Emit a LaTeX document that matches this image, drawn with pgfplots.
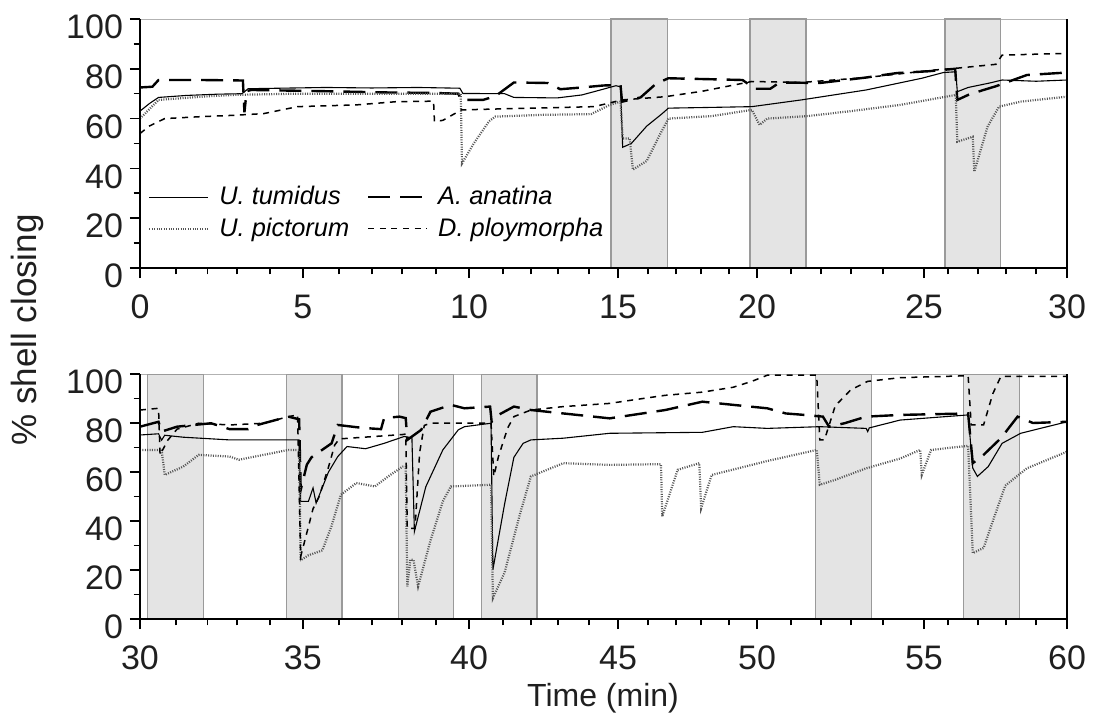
\documentclass[border=0pt]{standalone}
\usepackage{fontspec}
\setmainfont{Liberation Sans}
\usepackage{pgfplots}
\pgfplotsset{compat=1.18}

\definecolor{bandfill}{HTML}{E4E4E4}
\definecolor{bandedge}{HTML}{9A9A9A}
\definecolor{pict}{HTML}{555555}

\pgfplotsset{
  shellaxis/.style={
    scale only axis, width=463.5pt,
    ymin=0, ymax=100,
    axis line style={draw=gray!60, line width=0.4pt},
    tick align=outside, xtick pos=bottom, ytick pos=left,
    major tick length=5pt, minor tick length=3.2pt,
    every tick/.style={black, line width=0.8pt},
    ytick={0,20,...,100}, minor ytick={10,30,...,90},
    tick label style={font=\fontsize{17}{19}\selectfont, text=black!88},
    xticklabel style={yshift=-5pt},
    yticklabel style={yshift=-4pt},
    /pgf/number format/assume math mode=true,
    clip mode=individual,
  },
  tum/.style={black, line width=0.55pt},
  ana/.style={black, line width=1.2pt, dash pattern=on 11pt off 5pt},
  pic/.style={pict, line width=1.1pt, dash pattern=on 0.5pt off 0.7pt},
  ply/.style={black, line width=0.75pt, dash pattern=on 3pt off 2.8pt},
  band/.style={fill=bandfill, draw=bandedge, line width=0.6pt, forget plot},
}

\begin{document}
\begin{tikzpicture}
\useasboundingbox (-70pt,134pt) rectangle (478.5pt,-227pt);

% ---- 0 to 30 min ----
\begin{axis}[shellaxis,
  height=124.5pt,
  xmin=0, xmax=30,
  xtick={0,5.27,10.65,15.47,19.97,25.37,30},
  xticklabels={0,5,10,15,20,25,30},
  minor xtick={1.17,2.19,3.14,4.21,6.44,7.51,8.48,9.58,11.75,12.65,13.53,14.53,16.44,17.35,18.16,19.06,21.07,22.04,23.01,24.05,26.15,27.12,28.03,29.0},
  legend columns=2,
  legend cell align=left,
  legend style={at={(-0.0065,0.345)}, anchor=north west, draw=none, fill=none, inner sep=0pt,
    font=\fontsize{12.7}{14}\selectfont\itshape, row sep=1pt},
  legend image code/.code={\path[draw=none] (-7.5pt,0pt) -- (33pt,0pt); \draw[#1] (0pt,0pt) -- (29.5pt,0pt);},
]
\addplot[band] coordinates {(15.24,0) (15.24,100) (17.06,100) (17.06,0)} -- cycle;
\addplot[band] coordinates {(19.74,0) (19.74,100) (21.55,100) (21.55,0)} -- cycle;
\addplot[band] coordinates {(26.05,0) (26.05,100) (27.86,100) (27.86,0)} -- cycle;

\addplot[tum] coordinates {
(0,63) (0.3,66) (0.6,68.5) (1.5,69.3) (2.5,69.8) (3.3,70) (3.5,72) (4.5,72.2) (6,72.5)
(7.5,72.3) (9,72.5) (10.35,72.2) (10.45,70.1) (11.8,70) (12.1,68.5) (13.5,68.3) (14.3,69.5)
(14.9,71.5) (15.4,73.2) (15.55,72.8) (15.62,48.5) (15.9,50) (16.4,57) (16.9,62) (17.1,64.2)
(18.5,64.5) (19.8,64.8) (21.4,67.5) (23.5,71.5) (25.3,76.2) (26.0,78.5) (26.4,78.8)
(26.45,70.8) (26.8,72.5) (27.5,74.3) (27.9,75.5) (29,75) (30,75.5)};
\addlegendentry{U. tumidus}

\addplot[ana] coordinates {
(0,72.5) (0.4,72.8) (0.6,75.5) (2,75.5) (3.33,75.3) (3.38,62.5) (3.45,71) (3.6,71.5) (6,71)
(8,70.5) (9.5,70.3) (10.3,70) (10.4,67.5) (11.1,67.5) (11.5,69) (12.1,74.5) (13.2,74.3)
(13.6,71.8) (14.3,72.5) (15.0,73.3) (15.55,73.5) (15.6,66.8) (16.2,68.5) (16.7,74) (17.1,76.2)
(18.5,75.8) (19.5,75.5) (19.9,72) (20.4,72) (20.7,74.5) (22,74.3) (23.5,76.5) (24.5,78.3)
(25.5,79) (26.38,80) (26.45,67.5) (26.8,69.5) (27.3,71.5) (27.7,73) (28.7,77.5) (30,78.5)};
\addlegendentry{A. anatina}

\addplot[pic] coordinates {
(0,60) (0.6,67.5) (2,68.8) (3,69.5) (5,70) (8,70) (10.38,70) (10.42,42) (10.8,50) (11.3,59)
(11.5,60.8) (13,61.5) (14.6,61.8) (15.2,65.5) (15.55,66.8) (15.62,52) (15.85,52) (15.95,39.5)
(16.4,43) (16.8,53) (17.1,60) (18.5,61) (19.8,63.5) (20.05,57.5) (20.3,60) (21.6,61) (23,63)
(24.6,65.5) (26.4,69.5) (26.45,50.7) (26.95,52.7) (27.0,38.7) (27.43,56.8) (27.8,64.8)
(28.5,66.8) (30,68.8)};
\addlegendentry{U. pictorum}

\addplot[ply] coordinates {
(0,54) (0.3,57) (0.8,60) (2,60.8) (3,61.3) (4,62) (5.1,64.8) (7,65.5) (8.3,66.8) (9.5,67)
(9.53,58.8) (9.8,59.3) (10.4,63.5) (12,64) (13.7,64.5) (14.7,64.8) (15.2,66.3) (15.6,67.5)
(17,68.8) (18.2,71) (19.8,74.9) (21.4,74.5) (23.5,76.5) (25.7,79.5) (26.4,80.2) (27.7,81.8)
(27.9,85.5) (30,86.2)};
\addlegendentry{D. ploymorpha}

\draw[black, line width=1pt] (rel axis cs:0,1) -- (rel axis cs:0,0) -- (rel axis cs:1,0) -- (rel axis cs:1,1);
\end{axis}

% ---- 30 to 60 min ----
\begin{axis}[shellaxis,
  at={(0pt,-175.5pt)}, anchor=south west,
  height=122.5pt,
  xmin=30, xmax=60,
  xtick={30,35.27,40.65,45.47,49.97,55.37,60},
  xticklabels={30,35,40,45,50,55,60},
  minor xtick={31.17,32.19,33.14,34.21,36.44,37.51,38.48,39.58,41.75,42.65,43.53,44.53,46.44,47.35,48.16,49.06,51.07,52.04,53.01,54.05,56.15,57.12,58.03,59.0},
]
\addplot[band] coordinates {(30.25,0) (30.25,100) (32.06,100) (32.06,0)} -- cycle;
\addplot[band] coordinates {(34.75,0) (34.75,100) (36.54,100) (36.54,0)} -- cycle;
\addplot[band] coordinates {(38.36,0) (38.36,100) (40.15,100) (40.15,0)} -- cycle;
\addplot[band] coordinates {(41.06,0) (41.06,100) (42.85,100) (42.85,0)} -- cycle;
\addplot[band] coordinates {(51.85,0) (51.85,100) (53.66,100) (53.66,0)} -- cycle;
\addplot[band] coordinates {(56.66,0) (56.66,100) (58.46,100) (58.46,0)} -- cycle;

\addplot[tum] coordinates {
(30,75.1) (30.6,75.6) (30.7,73) (30.8,75) (31.4,74.2) (32.9,73.1) (34.9,73.1) (35.15,73.1)
(35.2,48) (35.45,48) (35.6,53.5) (35.7,47.3) (36.1,60) (36.4,66.3) (36.7,70.4) (37.3,69.5)
(37.9,71.7) (38.55,74.5) (38.8,74) (38.88,35.7) (39.25,54) (39.8,69) (40.3,77.2) (40.5,78.5)
(41.36,79.9) (41.42,20.1) (41.8,47) (42.1,66) (42.4,71.7) (42.65,73.1) (43.7,73.8) (45.2,75.8)
(48.2,76.2) (49.2,78.5) (50.3,77.8) (52,78.5) (53.5,77.8) (53.55,76.5) (53.6,78) (54.6,81.2)
(56.8,83.3) (56.95,61.6) (57.1,58.2) (57.45,62.2) (57.9,71.7) (58.5,75.8) (60,80.5)};

\addplot[ana] coordinates {
(30,78.5) (30.6,80.5) (30.7,76.5) (31.2,78.5) (32.3,79.9) (32.9,77.5) (33.5,77.5) (33.8,79.2)
(34.8,82.6) (35.15,81.5) (35.2,52.7) (35.4,63) (35.55,66) (36.2,71.7) (36.4,79.2) (37.2,78)
(37.8,77.5) (37.9,82) (38.4,82.6) (38.6,82) (38.65,73.1) (39.1,77.2) (39.4,84.6) (40.06,87.4)
(40.5,86) (41.33,86.7) (41.38,80.5) (41.6,83.3) (42.1,86.7) (42.65,85.3) (43.7,83.9) (45.2,81.9)
(47,85.3) (48.2,88.7) (49.2,87.4) (50.3,86) (50.9,83.9) (51.5,83.3) (52.1,82.6) (52.3,78.5)
(52.8,79.9) (53.5,82.6) (54.6,83.3) (56.8,83.9) (56.95,63.6) (57.3,67) (57.86,73.8) (58.4,82.6)
(58.9,80) (60,80.5)};

\addplot[pic] coordinates {
(30,69) (30.7,69) (30.8,58.8) (31.4,62.2) (31.9,67) (32.9,66.3) (33.2,65) (34.0,67) (34.8,69)
(35.15,69) (35.2,24) (35.45,26) (35.9,28) (36.2,38) (36.5,50.7) (37.0,55.5) (37.6,54.1)
(38.1,58.8) (38.5,62.2) (38.6,62.2) (38.65,13.3) (38.75,24.2) (38.85,24.2) (39.0,13.3) (39.4,32)
(39.8,48) (40.06,54.1) (41.36,54.8) (41.42,8.5) (41.8,19) (42.3,43) (42.65,58.2) (43.7,63.6)
(45.2,62.9) (46.86,63.2) (46.9,41.8) (47.4,60.9) (48.1,63.6) (48.16,45.2) (48.5,58.8) (49.2,61)
(50.3,64.5) (51.9,69) (52.0,54.8) (52.5,56.8) (53.5,61.5) (54.6,65.5) (55.25,69) (55.3,58.8)
(55.6,69) (56.8,70.7) (56.95,26.9) (57.3,29) (57.6,40) (58.0,54.4) (58.7,61.5) (60,68.3)};

\addplot[ply] coordinates {
(30,85.3) (30.6,86) (30.65,67) (30.9,73) (31.2,77.5) (31.9,79.9) (32.9,79.2) (34.0,79.9)
(34.8,82.6) (35.1,83.3) (35.2,25.5) (35.6,45) (35.8,50) (36.1,62) (36.3,71) (36.45,73.5)
(38.5,75.3) (38.6,75.5) (38.65,37) (38.9,37) (39.05,68) (39.2,79) (39.4,79.9) (41.36,79.9)
(41.45,58.2) (41.6,66.3) (41.9,78) (42.1,82.6) (42.65,85.3) (43.7,86.7) (45.2,88) (46.0,89.5)
(47.0,91.3) (48.2,92.6) (49.2,94.6) (49.8,97) (50.3,99.5) (51.9,99.5) (52.0,73.1) (52.15,73.1)
(52.5,87) (53,93.5) (53.55,97) (54.6,98.5) (56.8,99.3) (56.9,79.2) (57.3,79.2) (57.6,92)
(57.86,99) (60,99)};

\draw[black, line width=1pt] (rel axis cs:0,1) -- (rel axis cs:0,0) -- (rel axis cs:1,0) -- (rel axis cs:1,1);
\end{axis}

\node[rotate=90, anchor=base, font=\fontsize{17.5}{20}\selectfont, text=black!88] at (-51.5pt,-31pt) {\% shell closing};
\node[anchor=base, font=\fontsize{16}{19}\selectfont, text=black!88] at (231.5pt,-219pt) {Time (min)};
\end{tikzpicture}
\end{document}
